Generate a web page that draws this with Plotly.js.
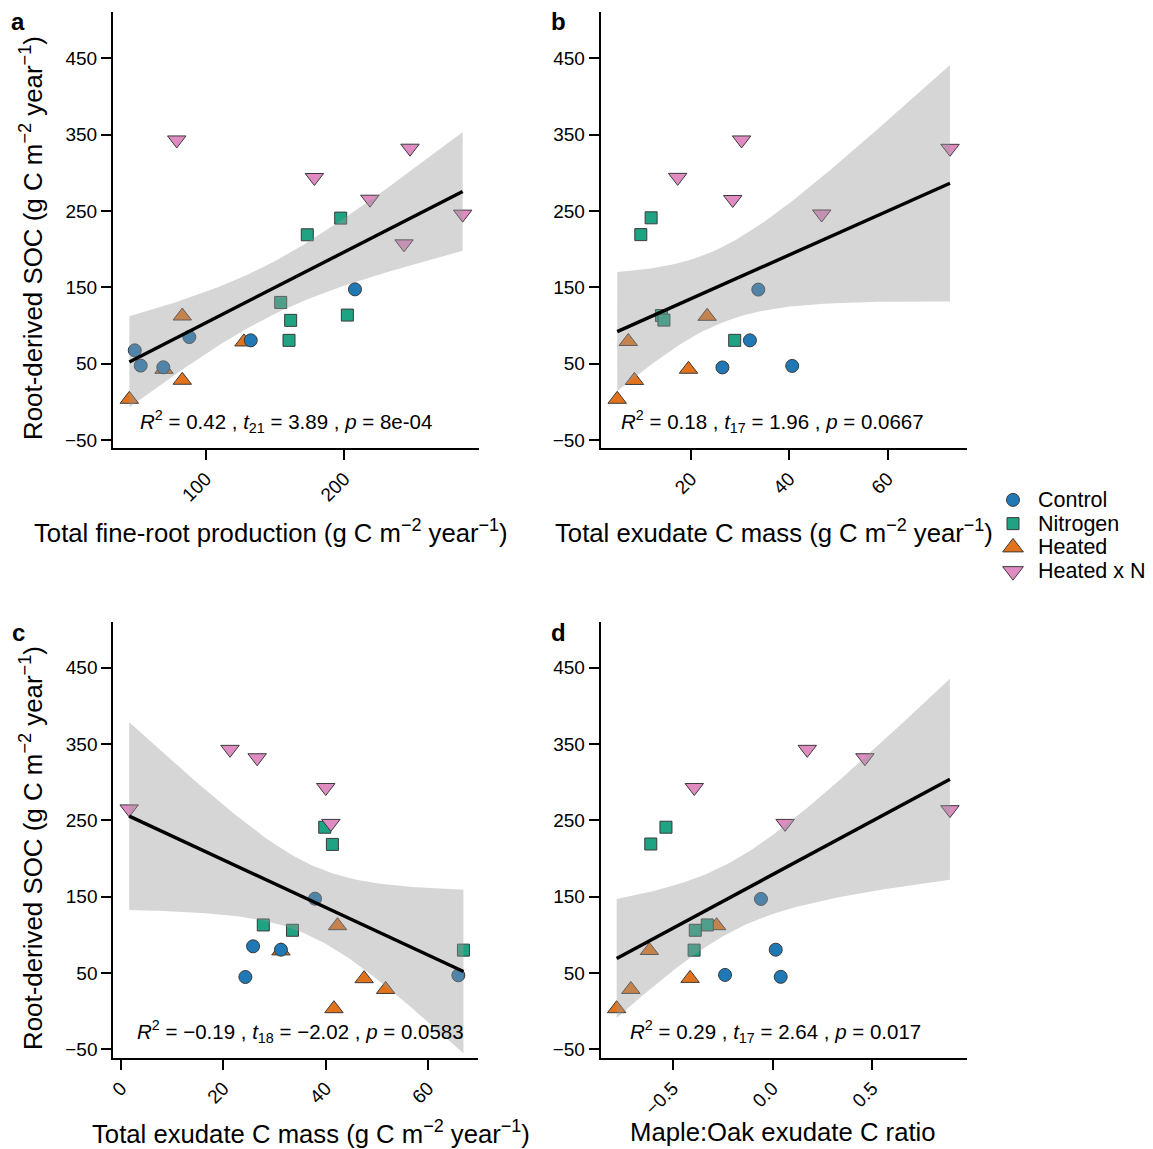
<!DOCTYPE html>
<html><head><meta charset="utf-8">
<script src="https://cdn.plot.ly/plotly-3.0.1.min.js"></script>
<style>html,body{margin:0;padding:0;background:#fff}#chart{width:1153px;height:1149px}</style>
</head><body><div id="chart"></div>
<script>
// ---------- data ----------
const treatments = ['Control', 'Nitrogen', 'Heated', 'Heated x N'];

// Panel a: Total fine-root production vs root-derived SOC
const aX   = [207.7, 88.2, 132.5, 48.8, 53.1, 69.4,
              197.4, 173.3, 154.1, 202.2, 161.3, 160.1,
              83.1, 127.6, 69.9, 83.1, 44.9,
              79.1, 247.4, 178.4, 218.5, 285.4, 243.1];
const aY   = [147.3, 84.8, 80.5, 67.4, 47.4, 45.2,
              240.6, 218.8, 130.2, 113.6, 106.7, 80.5,
              112.4, 78.4, 42.6, 28.2, 3.3,
              343, 332.2, 293.8, 265.4, 245.8, 206.9];
const aTrt = ['Control','Control','Control','Control','Control','Control',
              'Nitrogen','Nitrogen','Nitrogen','Nitrogen','Nitrogen','Nitrogen',
              'Heated','Heated','Heated','Heated','Heated',
              'Heated x N','Heated x N','Heated x N','Heated x N','Heated x N','Heated x N'];

// Panel b: Total exudate C mass
const bX   = [33.7, 32.0, 26.4, 40.6,
              11.9, 9.8, 14.0, 14.5, 28.9,
              23.3, 7.25, 19.5, 8.5, 5.0,
              30.3, 72.7, 17.3, 28.5, 46.6];
const bY   = [147, 80.5, 45, 47,
              241, 219, 113, 107, 80.5,
              112, 79, 42.6, 28, 3.3,
              343, 332, 294, 265, 246];
const bTrt = ['Control','Control','Control','Control',
              'Nitrogen','Nitrogen','Nitrogen','Nitrogen','Nitrogen',
              'Heated','Heated','Heated','Heated','Heated',
              'Heated x N','Heated x N','Heated x N','Heated x N','Heated x N'];

// Panel c: Total exudate C mass
const cX   = [37.9, 25.8, 31.25, 24.3, 65.9,
              39.8, 41.3, 27.8, 33.5, 66.9,
              42.3, 31.25, 47.5, 51.7, 41.6,
              21.3, 26.6, 40.0, 41.0, 1.6];
const cY   = [147.4, 85, 80.6, 44.8, 47,
              241, 218.5, 113, 106, 80,
              112, 79, 42.6, 28.5, 3.3,
              343, 332, 293, 246, 265];
const cTrt = ['Control','Control','Control','Control','Control',
              'Nitrogen','Nitrogen','Nitrogen','Nitrogen','Nitrogen',
              'Heated','Heated','Heated','Heated','Heated',
              'Heated x N','Heated x N','Heated x N','Heated x N','Heated x N'];

// Panel d: Maple:Oak exudate C ratio
const dX   = [-0.058, 0.016, -0.238, 0.041,
              -0.534, -0.610, -0.327, -0.387, -0.393,
              -0.280, -0.617, -0.413, -0.710, -0.781,
              0.174, 0.463, -0.392, 0.063, 0.889];
const dY   = [147, 80.6, 47.5, 45,
              241, 219, 113, 106, 80,
              112, 79.5, 43, 28.5, 3.3,
              343, 332, 293, 246, 264];
const dTrt = ['Control','Control','Control','Control',
              'Nitrogen','Nitrogen','Nitrogen','Nitrogen','Nitrogen',
              'Heated','Heated','Heated','Heated','Heated',
              'Heated x N','Heated x N','Heated x N','Heated x N','Heated x N'];

const statLabels = [
  '<i>R</i><sup>2</sup> = 0.42 , <i>t</i><sub>21</sub> = 3.89 , <i>p</i> = 8e-04',
  '<i>R</i><sup>2</sup> = 0.18 , <i>t</i><sub>17</sub> = 1.96 , <i>p</i> = 0.0667',
  '<i>R</i><sup>2</sup> = \u22120.19 , <i>t</i><sub>18</sub> = \u22122.02 , <i>p</i> = 0.0583',
  '<i>R</i><sup>2</sup> = 0.29 , <i>t</i><sub>17</sub> = 2.64 , <i>p</i> = 0.017'
];
const xTitles = [
  'Total fine-root production (g C m<sup>\u22122</sup> year<sup>\u22121</sup>)',
  'Total exudate C mass (g C m<sup>\u22122</sup> year<sup>\u22121</sup>)',
  'Total exudate C mass (g C m<sup>\u22122</sup> year<sup>\u22121</sup>)',
  'Maple:Oak exudate C ratio'
];
const yTitle = 'Root-derived SOC (g C m<sup>\u22122</sup> year<sup>\u22121</sup>)';
const panelLetters = ['a', 'b', 'c', 'd'];
const yTicks = [-50, 50, 150, 250, 350, 450];
const aTicks = [100, 200];
const bTicks = [20, 40, 60];
const cTicks = [0, 20, 40, 60];
const dTicks = [-0.5, 0, 0.5];
// two-sided 95% t quantiles by residual degrees of freedom
const T_CRIT = {17: 2.109816, 18: 2.100922, 21: 2.079614};

// ---------- styles ----------
const COLORS  = {'Control':'#2079B5', 'Nitrogen':'#1FA383', 'Heated':'#E2731C', 'Heated x N':'#E08CC3'};
const SYMBOLS = {'Control':'circle', 'Nitrogen':'square', 'Heated':'triangle-up', 'Heated x N':'triangle-down'};
const SIZES   = {'Control':13, 'Nitrogen':12, 'Heated':16, 'Heated x N':16};
const DRAW_ORDER = ['Heated', 'Nitrogen', 'Control', 'Heated x N'];
const FONT = 'Liberation Sans, Arial, sans-serif';
const MARKER_LINE = {color: '#3a3a3a', width: 1};

const W = 1153, H = 1149;
const panels = [
  {X:aX, Y:aY, T:aTrt, ticks:aTicks, range:[33.1, 297.2], xd:[113, 479],   yd:[12.3, 448.3],  fmt:''},
  {X:bX, Y:bY, T:bTrt, ticks:bTicks, range:[1.64, 76.1],  xd:[600.7, 966.7], yd:[12.3, 448.3], fmt:''},
  {X:cX, Y:cY, T:cTrt, ticks:cTicks, range:[-1.5, 69.8], xd:[113.3, 478.3], yd:[621.7, 1057.7], fmt:''},
  {X:dX, Y:dY, T:dTrt, ticks:dTicks, range:[-0.861, 0.973], xd:[600.7, 966.7], yd:[621.7, 1057.7], fmt:'.1f'}
];

function lmBand(xs, ys, nGrid) {
  const n = xs.length;
  const mx = xs.reduce((s, v) => s + v, 0) / n;
  const my = ys.reduce((s, v) => s + v, 0) / n;
  let sxx = 0, sxy = 0;
  for (let i = 0; i < n; i++) { sxx += (xs[i]-mx)*(xs[i]-mx); sxy += (xs[i]-mx)*(ys[i]-my); }
  const b = sxy / sxx, a = my - b * mx;
  let sse = 0;
  for (let i = 0; i < n; i++) { const r = ys[i] - (a + b*xs[i]); sse += r*r; }
  const df = n - 2, s = Math.sqrt(sse / df), t = T_CRIT[df];
  const lo = Math.min(...xs), hi = Math.max(...xs);
  const gx = [], fit = [], up = [], dn = [];
  for (let k = 0; k < nGrid; k++) {
    const x0 = lo + (hi - lo) * k / (nGrid - 1);
    const f = a + b * x0;
    const se = s * Math.sqrt(1/n + (x0-mx)*(x0-mx)/sxx);
    gx.push(x0); fit.push(f); up.push(f + t*se); dn.push(f - t*se);
  }
  return {gx, fit, up, dn};
}

const traces = [];
const layout = {
  width: W, height: H, margin: {l:0, r:0, t:0, b:0},
  paper_bgcolor: '#fff', plot_bgcolor: 'rgba(0,0,0,0)',
  font: {family: FONT, color: '#000'},
  showlegend: false, hovermode: false,
  annotations: []
};

panels.forEach((p, i) => {
  const sfx = i === 0 ? '' : String(i + 1);
  const xa = 'x' + sfx, ya = 'y' + sfx;
  DRAW_ORDER.forEach(tr => {
    const xs = [], ys = [];
    p.T.forEach((g, j) => { if (g === tr) { xs.push(p.X[j]); ys.push(p.Y[j]); } });
    traces.push({
      type: 'scatter', mode: 'markers', x: xs, y: ys, xaxis: xa, yaxis: ya, name: tr,
      marker: {symbol: SYMBOLS[tr], size: SIZES[tr], color: COLORS[tr], line: MARKER_LINE}
    });
  });
  const band = lmBand(p.X, p.Y, 80);
  traces.push({
    type: 'scatter', mode: 'lines', xaxis: xa, yaxis: ya,
    x: band.gx.concat(band.gx.slice().reverse()),
    y: band.up.concat(band.dn.slice().reverse()),
    fill: 'toself', fillcolor: 'rgba(153,153,153,0.4)', line: {width: 0}, hoverinfo: 'skip'
  });
  traces.push({
    type: 'scatter', mode: 'lines', xaxis: xa, yaxis: ya,
    x: band.gx, y: band.fit, line: {color: '#000', width: 3.4}, hoverinfo: 'skip'
  });

  const common = {showline: true, linecolor: '#000', linewidth: 2, ticks: 'outside',
                  ticklen: 10, tickwidth: 2, tickcolor: '#000', showgrid: false,
                  zeroline: false, fixedrange: true,
                  tickfont: {size: 19, family: FONT, color: '#000'}};
  layout['xaxis' + sfx] = Object.assign({}, common, {
    domain: [p.xd[0]/W, p.xd[1]/W], anchor: ya, range: p.range,
    tickmode: 'array', tickvals: p.ticks, tickangle: -45, tickformat: p.fmt
  });
  layout['yaxis' + sfx] = Object.assign({}, common, {
    domain: [1 - p.yd[1]/H, 1 - p.yd[0]/H], anchor: xa, range: [-60.9, 510.2],
    tickmode: 'array', tickvals: yTicks
  });
});

// ---------- legend (keys drawn on a hidden categorical axis) ----------
const LEG_X = [990, 1153], LEG_Y = [488, 583];   // pixel box
layout.xaxis5 = {domain: [LEG_X[0]/W, LEG_X[1]/W], range: [0, LEG_X[1]-LEG_X[0]], visible: false, fixedrange: true, anchor: 'y5'};
layout.yaxis5 = {domain: [1 - LEG_Y[1]/H, 1 - LEG_Y[0]/H], type: 'category', categoryorder: 'array',
                 categoryarray: treatments, range: [3.5, -0.5], visible: false, fixedrange: true, anchor: 'x5'};
treatments.forEach(tr => {
  traces.push({
    type: 'scatter', mode: 'markers', xaxis: 'x5', yaxis: 'y5', x: [23], y: [tr], name: tr,
    marker: {symbol: SYMBOLS[tr], size: SIZES[tr] + (tr.startsWith('Heated') ? 2 : 0),
             color: COLORS[tr], line: MARKER_LINE}
  });
  layout.annotations.push({
    xref: 'x5', yref: 'y5', x: 46, y: tr, xanchor: 'left', yanchor: 'middle',
    showarrow: false, text: tr, font: {size: 21.5, family: FONT, color: '#000'}
  });
});

// annotations: stats, axis titles, panel letters
const statPos  = [[285.5, 421], [772.5, 421], [300, 1031], [776, 1031]];
const xTitlePos = [[271, 531], [773.5, 531], [311, 1132], [783, 1132]];
const letterPos = [[18, 22], [558, 22], [18, 632], [558, 632]];
statLabels.forEach((s, i) => layout.annotations.push({
  xref: 'paper', yref: 'paper', x: statPos[i][0]/W, y: 1 - statPos[i][1]/H,
  xanchor: 'center', yanchor: 'middle', showarrow: false, text: s,
  font: {size: 20.5, family: FONT, color: '#000'}
}));
xTitles.forEach((s, i) => layout.annotations.push({
  xref: 'paper', yref: 'paper', x: xTitlePos[i][0]/W, y: 1 - xTitlePos[i][1]/H,
  xanchor: 'center', yanchor: 'middle', showarrow: false, text: s,
  font: {size: 25.7, family: FONT, color: '#000'}
}));
[[31, 238], [31, 848]].forEach(pos => layout.annotations.push({
  xref: 'paper', yref: 'paper', x: pos[0]/W, y: 1 - pos[1]/H,
  xanchor: 'center', yanchor: 'middle', showarrow: false, text: yTitle, textangle: -90,
  font: {size: 25.9, family: FONT, color: '#000'}
}));
panelLetters.forEach((s, i) => layout.annotations.push({
  xref: 'paper', yref: 'paper', x: letterPos[i][0]/W, y: 1 - letterPos[i][1]/H,
  xanchor: 'center', yanchor: 'middle', showarrow: false, text: '<b>' + s + '</b>',
  font: {size: 24, family: FONT, color: '#000'}
}));

Plotly.newPlot('chart', traces, layout, {staticPlot: true, displayModeBar: false});
</script>
</body></html>
